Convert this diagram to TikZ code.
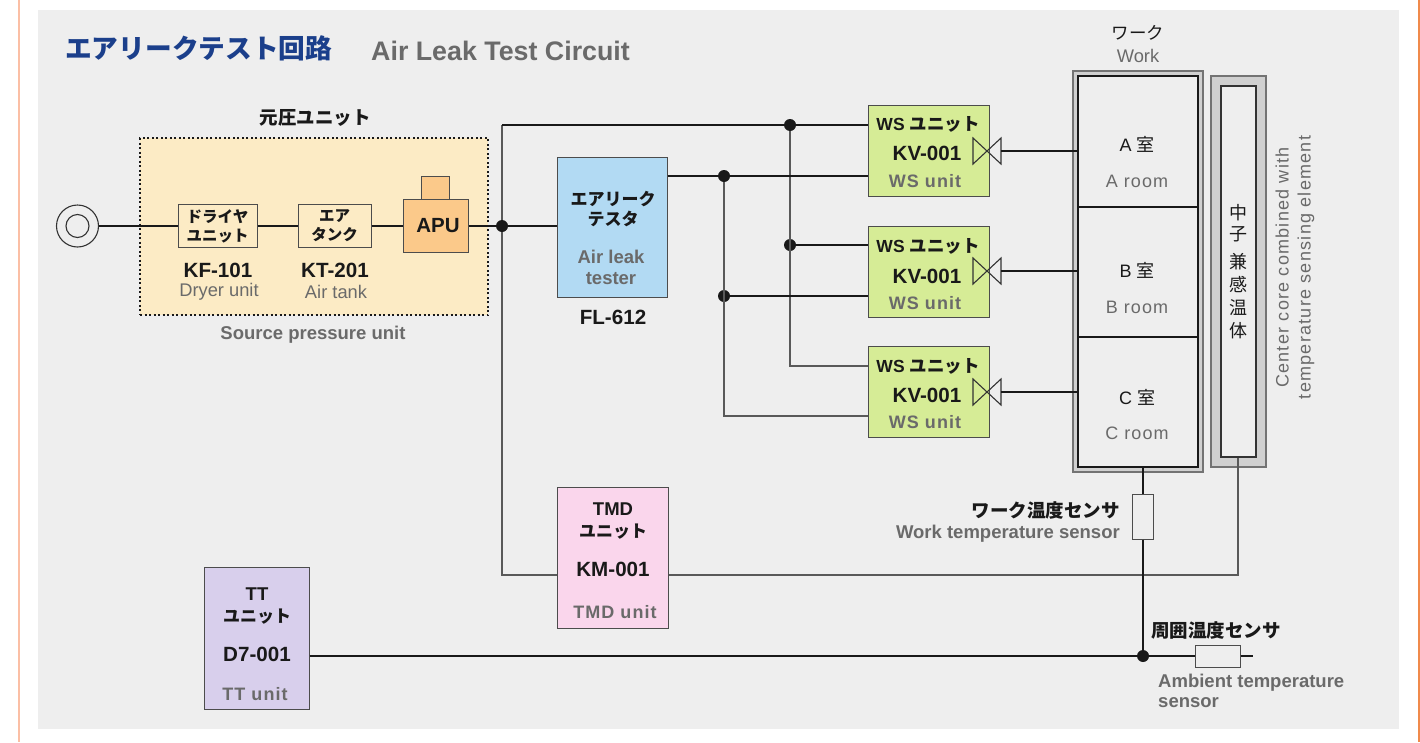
\documentclass[tikz,border=0pt]{standalone}
\usepackage{fontspec}
\setmainfont{Liberation Sans}
\newfontfamily\jp{Noto Sans CJK JP}
\newfontfamily\spaced[LetterSpace=6]{Liberation Sans}
\newfontfamily\spacedwide[LetterSpace=7]{Liberation Sans}
\usepackage{xcolor}
\definecolor{panelgray}{HTML}{EEEEEE}
\definecolor{titleblue}{HTML}{1B3F8B}
\definecolor{textgray}{HTML}{6A6A6A}
\definecolor{wallgray}{HTML}{D0D0D0}
\definecolor{sourcefill}{HTML}{FCEBC5}
\definecolor{apufill}{HTML}{FBC98A}
\definecolor{testerfill}{HTML}{B2DAF3}
\definecolor{wsfill}{HTML}{D6EC96}
\definecolor{tmdfill}{HTML}{FAD6EC}
\definecolor{ttfill}{HTML}{D8CFEC}
\definecolor{leftedge}{HTML}{FBBFA5}
\definecolor{rightedge}{HTML}{F08A4B}
\newcommand{\fs}[1]{\fontsize{#1}{#1}\selectfont}
\tikzstyle{unitbox} = [draw=black!70, line width=1pt, rectangle, inner sep=0pt]
\tikzstyle{wire} = [draw=black!90, line width=1.6pt]
\tikzstyle{thinwire} = [draw=black!65, line width=1.2pt]
\tikzstyle{joint} = [circle, fill=black!90, inner sep=0pt, minimum size=12pt]
\tikzstyle{jplabel} = [inner sep=0pt, text=black!90, align=center, font=\jp\bfseries\fs{17}]
\tikzstyle{smalljp} = [align=center, text=black!90, font=\jp\bfseries\fontsize{15.5}{19}\selectfont]
\tikzstyle{sensorjp} = [inner sep=0pt, text=black!90, font=\jp\bfseries\fs{18.5}]
\tikzstyle{partno} = [inner sep=0pt, text=black!90, font=\bfseries\fs{20.6}]
\tikzstyle{sublabel} = [inner sep=0pt, text=textgray, font=\bfseries\fs{18.5}]
\tikzstyle{unitlabel} = [inner sep=0pt, text=textgray, font=\spaced\bfseries\fs{18}]
\tikzstyle{plainlabel} = [inner sep=0pt, text=textgray, font=\fs{18.3}]
\tikzstyle{roomen} = [inner sep=0pt, text=textgray, font=\spaced\fs{18}]
\tikzstyle{roomlabel} = [inner sep=0pt, text=black!90, font=\fs{18}]
\tikzstyle{valveline} = [draw=black!80, line width=1.1pt]

\begin{document}
\begin{tikzpicture}[x=1pt, y=-1pt]
    \useasboundingbox (0,0) rectangle (1420,742);
    \fill[white] (0,0) rectangle (1420,742);
    \draw[color=leftedge, line width=2pt] (19,0) -- (19,742);
    \draw[color=rightedge, line width=2pt] (1419,0) -- (1419,742);
    \fill[panelgray] (38,10) rectangle (1399,729);

    \node[inner sep=0pt, anchor=west, text=titleblue, font=\jp\bfseries\fs{26.7}] (title) at (65,48) {エアリークテスト回路};
    \node[inner sep=0pt, anchor=west, text=textgray, font=\bfseries\fs{26.8}] (titleen) at (371,51) {Air Leak Test Circuit};

    \node[rectangle, draw=black!90, fill=sourcefill, line width=2pt, dash pattern=on 2pt off 2.5pt,
        minimum width=348pt, minimum height=177pt, inner sep=0pt] (source) at (314,226.5) {};
    \node[jplabel, font=\jp\bfseries\fs{18.5}] (sourcejp) at (315,118) {元圧ユニット};
    \node[sublabel] (sourceen) at (313,335) {Source pressure unit};

    \node[circle, draw=black!80, line width=1.1pt, minimum size=42pt, inner sep=0pt] (ring) at (77.5,226) {};
    \node[circle, draw=black!80, line width=1.1pt, minimum size=23pt, inner sep=0pt] (ringin) at (77.5,226) {};

    \node[unitbox, minimum width=79pt, minimum height=43pt, smalljp] (dryer) at (217.5,226) {ドライヤ\\ユニット};
    \node[unitbox, minimum width=73pt, minimum height=43pt, smalljp] (tank) at (334.5,226) {エア\\タンク};
    \node[unitbox, fill=apufill, minimum width=28pt, minimum height=24pt] (apucap) at (435,188) {};
    \node[unitbox, fill=apufill, minimum width=65pt, minimum height=53pt, text=black!90, font=\bfseries\fs{20.5}] (apu) at (435.5,226) {\hspace*{5pt}APU};
    \node[partno] (dryerno) at (218,270) {KF-101};
    \node[plainlabel] (dryeren) at (219,292) {Dryer unit};
    \node[partno] (tankno) at (335,270) {KT-201};
    \node[plainlabel] (tanken) at (336,292) {Air tank};

    \node[unitbox, fill=testerfill, minimum width=110pt, minimum height=140pt] (tester) at (612,227) {};
    \node[jplabel] (testerjp) at (613,209) {エアリーク\\[3pt]テスタ};
    \node[sublabel, align=center] (testeren) at (611,267.5) {Air leak\\[2.5pt]tester};
    \node[partno] (testerno) at (613,317) {FL-612};

    \node[unitbox, fill=wsfill, minimum width=121pt, minimum height=91pt] (wsa) at (928.5,150.5) {};
    \node[unitbox, fill=wsfill, minimum width=121pt, minimum height=91pt] (wsb) at (928.5,271.5) {};
    \node[unitbox, fill=wsfill, minimum width=121pt, minimum height=91pt] (wsc) at (928.5,392) {};
    \node[jplabel, font=\bfseries\fs{17.5}] (wsajp) at (928,124) {WS {\jp ユニット}};
    \node[partno] (wsano) at (927,153) {KV-001};
    \node[unitlabel] (wsaen) at (925,181) {WS unit};
    \node[jplabel, font=\bfseries\fs{17.5}] (wsbjp) at (928,246) {WS {\jp ユニット}};
    \node[partno] (wsbno) at (927,276) {KV-001};
    \node[unitlabel] (wsben) at (925,303) {WS unit};
    \node[jplabel, font=\bfseries\fs{17.5}] (wscjp) at (928,366) {WS {\jp ユニット}};
    \node[partno] (wscno) at (927,395) {KV-001};
    \node[unitlabel] (wscen) at (925,422) {WS unit};

    \coordinate (valvea) at (987,151);
    \coordinate (valveb) at (987,271);
    \coordinate (valvec) at (987,392);
    \draw[valveline] (valvea) ++(-14,-13) -- ++(0,26) -- ++(28,-26) -- ++(0,26) -- cycle;
    \draw[valveline] (valveb) ++(-14,-13) -- ++(0,26) -- ++(28,-26) -- ++(0,26) -- cycle;
    \draw[valveline] (valvec) ++(-14,-13) -- ++(0,26) -- ++(28,-26) -- ++(0,26) -- cycle;

    \node[rectangle, draw=black!55, fill=wallgray, line width=1.3pt, minimum width=130pt, minimum height=401pt, inner sep=0pt] (workouter) at (1138,271.5) {};
    \node[rectangle, draw=black!90, fill=panelgray, line width=1.4pt, minimum width=120pt, minimum height=391pt, inner sep=0pt] (work) at (1138,271.5) {};
    \coordinate (roomab) at (1138,207);
    \coordinate (roombc) at (1138,337);
    \draw[wire] (work.west |- roomab) -- (work.east |- roomab);
    \draw[wire] (work.west |- roombc) -- (work.east |- roombc);
    \node[inner sep=0pt, text=black!90, font=\jp\fs{17.5}] (workjp) at (1138,33) {ワーク};
    \node[plainlabel] (worken) at (1138,56) {Work};
    \node[roomlabel] (rooma) at (1137,144) {A {\jp 室}};
    \node[roomen] (roomaen) at (1137,181) {A room};
    \node[roomlabel] (roomb) at (1137,270) {B {\jp 室}};
    \node[roomen] (roomben) at (1137,307) {B room};
    \node[roomlabel] (roomc) at (1137,397) {C {\jp 室}};
    \node[roomen] (roomcen) at (1137,433) {C room};

    \node[rectangle, draw=black!55, fill=wallgray, line width=1.3pt, minimum width=55pt, minimum height=391pt, inner sep=0pt] (coreouter) at (1238.5,271.5) {};
    \node[rectangle, draw=black!80, fill=panelgray, line width=1.2pt, minimum width=35pt, minimum height=371pt, inner sep=0pt] (core) at (1238.5,271.5) {};
    \node[inner sep=0pt, align=center, text=black!90, font=\jp\fontsize{18}{23}\selectfont] (corejp) at (1238,272) {中\\[-2pt]子\\[5pt]兼\\感\\温\\体};
    \node[inner sep=0pt, text=textgray, rotate=90, align=center, font=\spacedwide\fontsize{18}{22}\selectfont] (coreen) at (1295,267.5) {Center core combined with\\temperature sensing element};

    \node[unitbox, fill=tmdfill, minimum width=111pt, minimum height=141pt] (tmd) at (612.5,557.5) {};
    \node[jplabel, font=\bfseries\fs{17}] (tmdjp) at (613,521) {{\fs{18.5}TMD}\\[5pt]{\jp ユニット}};
    \node[partno] (tmdno) at (613,569) {KM-001};
    \node[unitlabel] (tmden) at (615,612) {TMD unit};

    \node[unitbox, fill=ttfill, minimum width=105pt, minimum height=142pt] (tt) at (256.5,638) {};
    \node[jplabel, font=\bfseries\fs{17}] (ttjp) at (257,606) {{\fs{18.5}TT}\\[5pt]{\jp ユニット}};
    \node[partno] (ttno) at (257,654) {D7-001};
    \node[unitlabel] (tten) at (255,694) {TT unit};

    \node[unitbox, fill=panelgray, minimum width=21pt, minimum height=45pt] (worksensor) at (1143,516.5) {};
    \node[sensorjp, anchor=east] (worksensorjp) at (1120,510) {ワーク温度センサ};
    \node[sublabel, anchor=east] (worksensoren) at (1120,533.5) {Work temperature sensor};
    \node[unitbox, fill=panelgray, minimum width=45pt, minimum height=22pt] (airsensor) at (1217.5,656) {};
    \node[sensorjp] (airsensorjp) at (1216,630) {周囲温度センサ};
    \node[sublabel, anchor=north west, align=left] (airsensoren) at (1158,674) {Ambient temperature\\[1pt]sensor};

    \node[joint] (jsource) at (502,226) {};
    \node[joint] (jtopa) at (790,125) {};
    \node[joint] (jtopb) at (790,245) {};
    \coordinate (jtopc) at (790,366);
    \node[joint] (jtesta) at (724,176) {};
    \node[joint] (jtestb) at (724,296) {};
    \coordinate (jtestc) at (724,416);
    \coordinate (jtmd) at (502,575);
    \coordinate (jtop) at (502,125);
    \coordinate (coreend) at (1238,575);
    \node[joint] (jair) at (1143,656) {};
    \coordinate (airend) at (1253,656);

    \draw[wire] (ring.east) -- (dryer.west);
    \draw[wire] (dryer.east) -- (tank.west);
    \draw[wire] (tank.east) -- (apu.west);
    \draw[wire] (apu.east) -- (jsource) -- (tester.west |- jsource);

    \draw[thinwire] (jsource) -- (jtmd) -- (tmd.west |- jtmd);
    \draw[thinwire] (jsource) -- (jtop);
    \draw[wire] (jtop) -- (jtopa) -- (wsa.west |- jtopa);
    \draw[thinwire] (jtopa) -- (jtopc) -- (wsc.west |- jtopc);
    \draw[wire] (jtopb) -- (wsb.west |- jtopb);

    \draw[wire] (tester.east |- jtesta) -- (jtesta) -- (wsa.west |- jtesta);
    \draw[thinwire] (jtesta) -- (jtestc) -- (wsc.west |- jtestc);
    \draw[wire] (jtestb) -- (wsb.west |- jtestb);

    \draw[wire] (valvea) ++(14,0) -- (work.west |- valvea);
    \draw[wire] (valveb) ++(14,0) -- (work.west |- valveb);
    \draw[wire] (valvec) ++(14,0) -- (work.west |- valvec);

    \draw[thinwire] (tmd.east |- coreend) -- (coreend) -- (core.south -| coreend);
    \draw[wire] (work.south -| worksensor) -- (worksensor.north);
    \draw[wire] (worksensor.south) -- (worksensor.south |- jair);
    \draw[wire] (tt.east |- jair) -- (jair) -- (airsensor.west);
    \draw[wire] (airsensor.east) -- (airend);
\end{tikzpicture}
\end{document}
